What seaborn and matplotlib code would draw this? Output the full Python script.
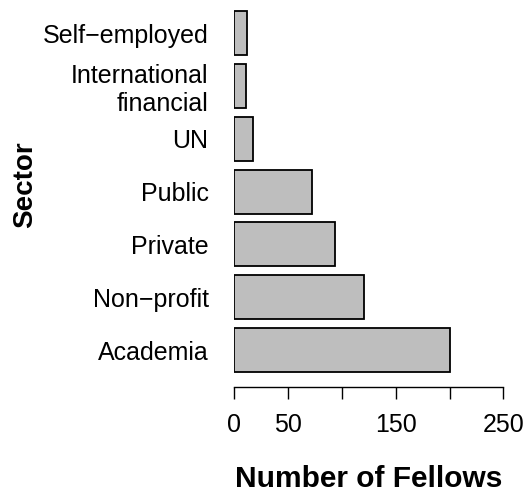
import numpy as np
import matplotlib
matplotlib.use("Agg")
import matplotlib.pyplot as plt
import seaborn as sns
import pandas as pd

# sectors listed top to bottom as they appear on the chart
sectors = ["Self\u2212employed", "International\nfinancial", "UN", "Public",
           "Private", "Non\u2212profit", "Academia"]
fellows = [12, 11, 17, 72, 94, 121, 200]
xticks = [0, 50, 100, 150, 200, 250]
xticklabels = ["0", "50", "", "150", "", "250"]

df = pd.DataFrame({"Sector": sectors, "Fellows": fellows})

sns.set_style("white")
plt.rcParams["font.family"] = ["Liberation Sans", "DejaVu Sans"]
plt.rcParams["text.color"] = "black"
plt.rcParams["axes.labelcolor"] = "black"
plt.rcParams["xtick.color"] = "black"
plt.rcParams["ytick.color"] = "black"

fig = plt.figure(figsize=(5.26, 4.95), dpi=100)
ax = fig.add_axes([234.3 / 526, 108 / 495, 269 / 526, 382 / 495])

sns.barplot(data=df, x="Fellows", y="Sector", order=sectors, color="#bebebe",
            edgecolor="black", linewidth=1.3, width=0.833, saturation=1, ax=ax)

ax.set_xlim(0, 250)
ax.set_ylim(6.70, -0.53)
for s in ["top", "right", "left"]:
    ax.spines[s].set_visible(False)
ax.spines["bottom"].set_bounds(0, 250)
ax.spines["bottom"].set_linewidth(1.0)
ax.spines["bottom"].set_color("black")
ax.set_xticks(xticks)
ax.set_xticklabels(xticklabels)
ax.tick_params(axis="x", length=8.6, width=1.0, pad=10, labelsize=18, direction="out",
               bottom=True)
ax.tick_params(axis="y", length=0, pad=18.5, labelsize=18)
for lbl in ax.get_yticklabels():
    lbl.set_linespacing(1.2)

ax.set_xlabel("Number of Fellows", fontsize=21.5, fontweight="bold")
ax.xaxis.label.set_va("center")
ax.xaxis.set_label_coords(0.5, (387 - 479) / 382)
ax.set_ylabel("Sector", fontsize=20, fontweight="bold")
ax.yaxis.label.set_va("center")
ax.yaxis.set_label_coords((25 - 234.3) / 269, (387 - 185) / 382)

fig.savefig("out.png", dpi=100)
